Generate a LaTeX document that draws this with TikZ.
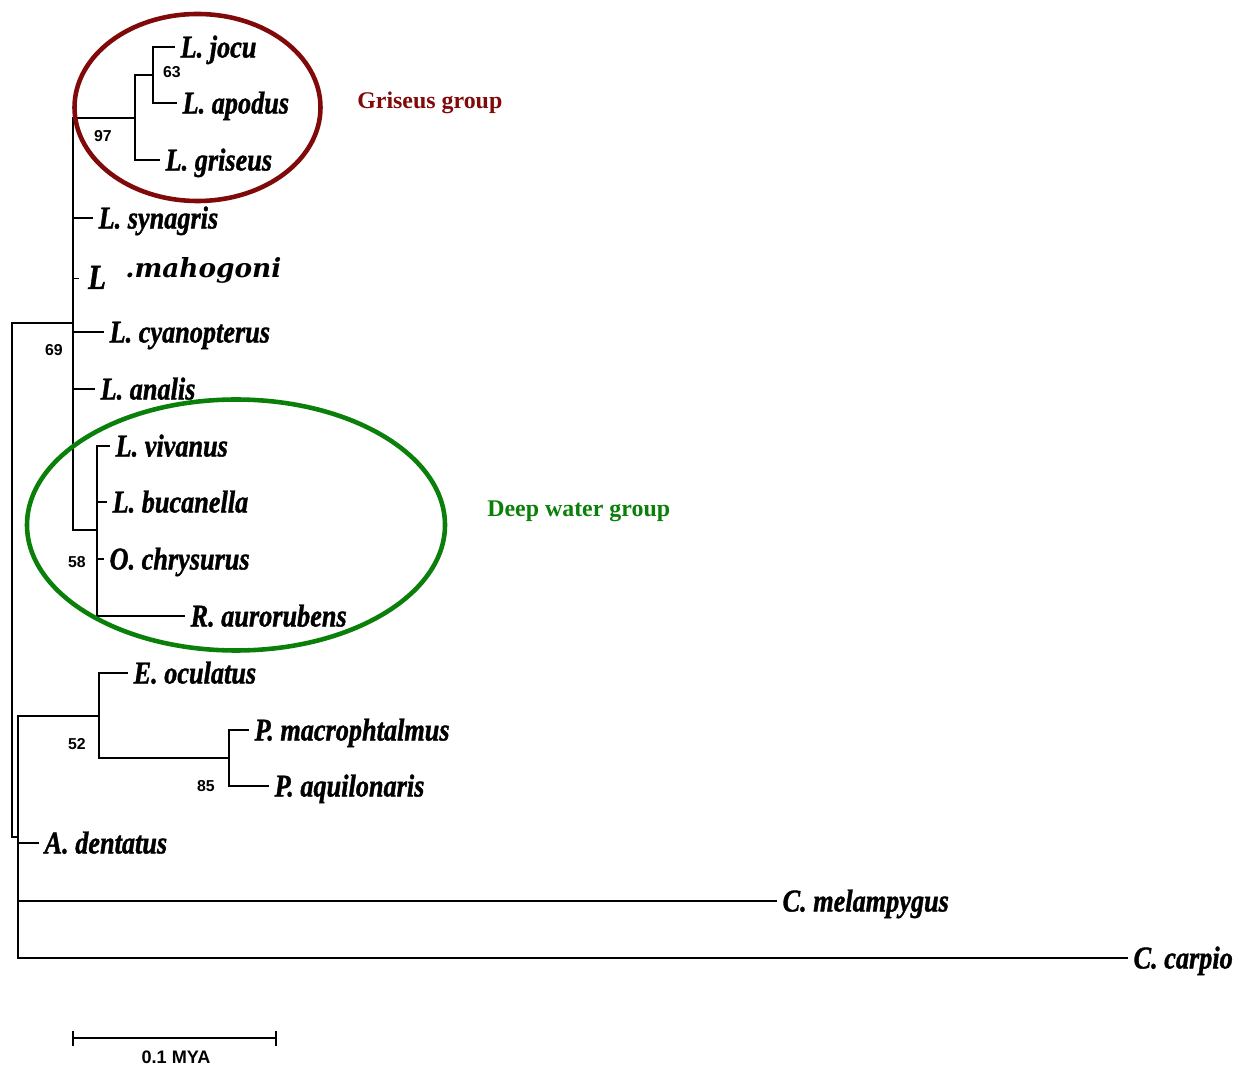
\documentclass[tikz,border=0pt]{standalone}
\usepackage{fontspec}
\usepackage{graphicx}
\usepackage{tikz}
\newfontfamily\taxonfont{Liberation Serif}[BoldItalicFeatures={FakeBold=1.3}]
\newfontfamily\mahofont{DejaVu Serif}
\newfontfamily\groupfont{Liberation Serif}
\newfontfamily\bootfont{Liberation Sans}
\definecolor{griseusred}{RGB}{128,10,10}
\definecolor{deepgreen}{RGB}{10,128,10}
\newcommand{\treeUnit}[0]{0.02cm}
\newcommand{\taxon}[1]{\scalebox{0.83}[1]{\bfseries\itshape #1}}

\begin{document}
\begin{tikzpicture}[x=\treeUnit, y=-\treeUnit]
  \tikzset{branch/.style={line width=0.85pt},
    tip/.style={anchor=west, inner xsep=3pt, inner ysep=0pt, text height=11.9pt, text depth=0pt,
      font=\taxonfont\fontsize{18}{20}\selectfont},
    boot/.style={inner sep=0pt, font=\bootfont\bfseries\fontsize{9}{10}\selectfont},
    grouplabel/.style={anchor=west, inner sep=0pt, font=\groupfont\bfseries\fontsize{13.6}{15}\selectfont}}
  \useasboundingbox (0,0) rectangle (1242,1067);

  \coordinate (root) at (18,837);
  \coordinate (n12) at (12,837);
  \coordinate (n69) at (73,323);
  \coordinate (n97) at (135,118);
  \coordinate (n63) at (153,75);
  \coordinate (n58) at (97,530);
  \coordinate (n52) at (99,716);
  \coordinate (n85) at (229,758);

  \node[tip] (jocu) at (175,47) {\taxon{L. jocu}};
  \node[tip] (apodus) at (177,103) {\taxon{L. apodus}};
  \node[tip] (griseus) at (160,160) {\taxon{L. griseus}};
  \node[tip] (synagris) at (93,218) {\taxon{L. synagris}};
  \node[tip, inner xsep=5pt, yshift=-2pt, font=\taxonfont\fontsize{20}{22}\selectfont] (mahogoni) at (79,275) {\taxon{L}};
  \node[anchor=base west, inner sep=0pt, font=\mahofont\bfseries\itshape\fontsize{15}{18}\selectfont]
    (mahogoniname) at (125,278) {.mahogoni};
  \node[tip] (cyanopterus) at (104,332) {\taxon{L. cyanopterus}};
  \node[tip] (analis) at (95,389) {\taxon{L. analis}};
  \node[tip] (vivanus) at (110,446) {\taxon{L. vivanus}};
  \node[tip] (bucanella) at (107,502) {\taxon{L. bucanella}};
  \node[tip] (chrysurus) at (104,559) {\taxon{O. chrysurus}};
  \node[tip] (aurorubens) at (185,616) {\taxon{R. aurorubens}};
  \node[tip] (oculatus) at (128,673) {\taxon{E. oculatus}};
  \node[tip] (macrophtalmus) at (249,730) {\taxon{P. macrophtalmus}};
  \node[tip] (aquilonaris) at (269,786) {\taxon{P. aquilonaris}};
  \node[tip] (dentatus) at (39,843) {\taxon{A. dentatus}};
  \node[tip] (melampygus) at (777,901) {\taxon{C. melampygus}};
  \node[tip] (carpio) at (1128,958) {\taxon{C. carpio}};

  \draw[branch] (root) |- (n52);
  \draw[branch] (root) -- (n12) |- (n69);
  \foreach \t in {dentatus, melampygus, carpio}
    \draw[branch] (root) |- (\t.west);
  \draw[branch] (n69) |- (n97);
  \draw[branch] (n69) |- (n58);
  \foreach \t in {synagris, mahogoni, cyanopterus, analis}
    \draw[branch] (n69) |- (\t.west);
  \draw[branch] (n97) |- (n63);
  \draw[branch] (n97) |- (griseus.west);
  \foreach \t in {jocu, apodus}
    \draw[branch] (n63) |- (\t.west);
  \foreach \t in {vivanus, bucanella, chrysurus, aurorubens}
    \draw[branch] (n58) |- (\t.west);
  \draw[branch] (n52) |- (oculatus.west);
  \draw[branch] (n52) |- (n85);
  \foreach \t in {macrophtalmus, aquilonaris}
    \draw[branch] (n85) |- (\t.west);

  \node[boot] (b63) at (172,72) {63};
  \node[boot] (b97) at (103,136) {97};
  \node[boot] (b69) at (54,350) {69};
  \node[boot] (b58) at (77,562) {58};
  \node[boot] (b52) at (77,744) {52};
  \node[boot] (b85) at (206,786) {85};

  \draw[griseusred, line width=2.6pt] (197.5,107.5) ellipse [x radius=123, y radius=93.5];
  \draw[deepgreen, line width=2.6pt] (236,525) ellipse [x radius=209, y radius=125.5];
  \node[grouplabel, text=griseusred] (griseusgroup) at (357,103) {Griseus group};
  \node[grouplabel, text=deepgreen] (deepgroup) at (487,511) {Deep water group};

  \coordinate (barL) at (73,1038);
  \coordinate (barR) at (276,1038);
  \draw[line width=1.7pt] (barL) -- (barR);
  \draw[line width=1.2pt] ([yshift=0.14cm]barL) -- ([yshift=-0.16cm]barL);
  \draw[line width=1.2pt] ([yshift=0.14cm]barR) -- ([yshift=-0.16cm]barR);
  \node[inner sep=0pt, font=\bootfont\bfseries\fontsize{10.3}{12}\selectfont] (barlabel) at (176,1057) {0.1 MYA};
\end{tikzpicture}
\end{document}
